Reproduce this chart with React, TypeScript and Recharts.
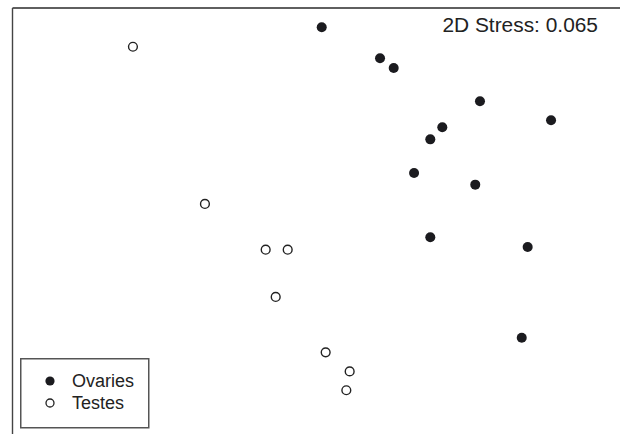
import React from "react";
import { ScatterChart, Scatter, XAxis, YAxis, Legend } from "recharts";

// nMDS coordinates (arbitrary MDS units)
const ovariesX = [0.036, 0.42, 0.51, 1.078, 1.546, 0.83, 0.751, 0.644, 1.047, 0.751, 1.392, 1.353];
const ovariesY = [1.364, 1.146, 1.077, 0.843, 0.709, 0.66, 0.575, 0.338, 0.256, -0.115, -0.183, -0.822];
const testesX = [-1.207, -0.733, -0.333, -0.188, -0.267, 0.062, 0.22, 0.198];
const testesY = [1.227, 0.12, -0.202, -0.202, -0.535, -0.925, -1.059, -1.192];

const STRESS_LABEL = "2D Stress: 0.065";
const FONT = "'Liberation Sans', Arial, Helvetica, sans-serif";

const ovaries = ovariesX.map((x, i) => ({ x, y: ovariesY[i] }));
const testes = testesX.map((x, i) => ({ x, y: testesY[i] }));

const FilledDot = (props: any) => (
  <circle cx={props.cx} cy={props.cy} r={5} fill="#1b1b1f" />
);

const OpenDot = (props: any) => (
  <circle cx={props.cx} cy={props.cy} r={4.4} fill="#fff" stroke="#222" strokeWidth={1.4} />
);

function LegendBox(props: any) {
  const items = props.payload || [];
  return (
    <svg width={130} height={71} style={{ display: "block" }}>
      <rect x={0.75} y={0.75} width={128} height={69} fill="#fff" stroke="#555" strokeWidth={1.5} />
      {items.map((item: any, i: number) => {
        const cy = 23 + i * 22;
        return (
          <g key={item.value}>
            {item.value === "Ovaries" ? (
              <circle cx={30} cy={cy} r={4.6} fill="#1b1b1f" />
            ) : (
              <circle cx={30} cy={cy} r={4} fill="#fff" stroke="#222" strokeWidth={1.3} />
            )}
            <text x={52} y={cy + 6} fontSize={18} fontFamily={FONT} fill="#222">
              {item.value}
            </text>
          </g>
        );
      })}
    </svg>
  );
}

export default function App() {
  return (
    <div style={{ position: "absolute", left: 0, top: 0, width: 620, height: 434, background: "#fff" }}>
      <ScatterChart width={620} height={434} margin={{ top: 7, left: 11.5, right: 0, bottom: 0 }}>
        <XAxis
          type="number"
          dataKey="x"
          domain={[-2, 2]}
          orientation="top"
          height={1}
          tick={false}
          tickLine={false}
          axisLine={{ stroke: "#2a2a2a", strokeWidth: 1.6 }}
          allowDataOverflow
        />
        <YAxis
          type="number"
          dataKey="y"
          domain={[-1.5, 1.5]}
          width={1}
          tick={false}
          tickLine={false}
          axisLine={{ stroke: "#444", strokeWidth: 1.4 }}
          allowDataOverflow
        />
        <Legend
          layout="horizontal"
          align="center"
          verticalAlign="middle"
          content={<LegendBox />}
          wrapperStyle={{ left: 20, top: 357.5, width: 130, height: 71 }}
        />
        <Scatter name="Ovaries" data={ovaries} shape={<FilledDot />} isAnimationActive={false} />
        <Scatter name="Testes" data={testes} shape={<OpenDot />} isAnimationActive={false} />
        <text x={598} y={32} textAnchor="end" fontSize={20.9} fontFamily={FONT} fill="#222">
          {STRESS_LABEL}
        </text>
      </ScatterChart>
    </div>
  );
}
